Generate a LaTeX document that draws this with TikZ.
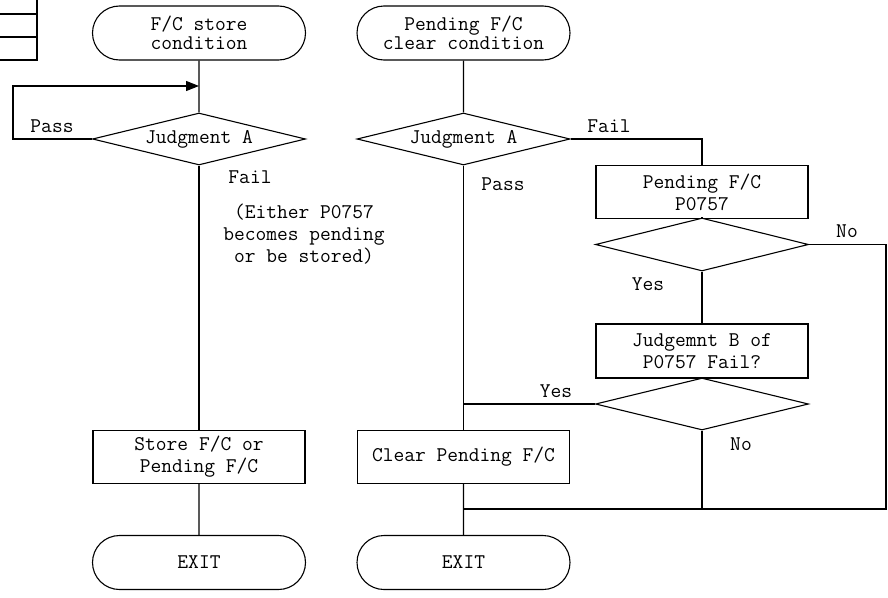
\documentclass[tikz,border=0pt]{standalone}
\usetikzlibrary{shapes.geometric,shapes.misc,arrows.meta}
\begin{document}
\begin{tikzpicture}[x=1pt,y=-1pt,
  line width=1.1pt,
  every node/.style={font=\ttfamily\fontsize{20.9}{22}\selectfont},
  term/.style={draw,rounded rectangle,minimum width=213pt,minimum height=54pt,inner sep=0pt,align=center},
  proc/.style={draw,rectangle,minimum width=212pt,minimum height=53pt,inner sep=0pt,align=center},
  dec/.style={draw,diamond,minimum width=213pt,minimum height=52pt,inner sep=0pt},
  lbl/.style={inner sep=0pt,anchor=base},
  tbl/.style={line width=2pt}]
\useasboundingbox (0,0) rectangle (888,597);
% table fragment
\draw[tbl] (0,14) -- (37,14);
\draw[tbl] (0,37) -- (37,37);
\draw[tbl] (0,60) -| (37,0);
% left column
\node[term,font=\ttfamily\fontsize{20.9}{19}\selectfont] (startL) at (199,33) {F/C store\\condition};
\node[dec] (jaL) at (199,139) {};
\node[inner sep=0pt] (jaLt) at (jaL) {Judgment A};
\node[proc] (store) at (199,457) {Store F/C or\\Pending F/C};
\node[term] (exitL) at (199,562.5) {EXIT};
\coordinate (lpB) at (13,86);
\coordinate (lpT) at (199,86);
\draw (startL) -- (jaL);
\draw[-{Triangle[length=13pt,width=10pt]}] (jaL.west) -| (lpB) -- (lpT);
\draw (jaL) -- (store);
\draw (store) -- (exitL);
\node[lbl] (passL) at (52,132) {Pass};
\node[lbl] (failL) at (250,183) {Fail};
\node[inner sep=0pt,align=center] (note) at (304,234) {(Either P0757\\becomes pending\\or be stored)};
% right column
\node[term,font=\ttfamily\fontsize{20.9}{19}\selectfont] (startR) at (463.5,33) {Pending F/C\\clear condition};
\node[dec] (jaR) at (463.5,139) {};
\node[inner sep=0pt] (jaRt) at (jaR) {Judgment A};
\node[proc] (pend) at (702,192) {Pending F/C\\P0757};
\node[dec,minimum height=53pt] (d2) at (702,244.5) {};
\node[proc,minimum height=54pt] (jb) at (702,351) {Judgemnt B of\\P0757 Fail?};
\node[dec] (d3) at (702,404) {};
\node[proc] (clear) at (463.5,457) {Clear Pending F/C};
\node[term] (exitR) at (463.5,562.5) {EXIT};
\coordinate (joinY) at (463.5,404);
\coordinate (joinB) at (702,509);
\coordinate (joinM) at (463.5,509);
\coordinate (rightC) at (886,509);
\draw (startR) -- (jaR);
\draw (jaR.east) -| (pend.north);
\draw (jaR.south) -- (clear.north);
\draw (pend) -- (d2);
\draw (d2) -- (jb);
\draw (jb) -- (d3);
\draw (d3.west) -- (joinY);
\draw (d3.south) -- (joinB);
\draw (d2.east) -| (rightC) -- (joinM);
\draw (clear) -- (exitR);
\node[lbl] (failR) at (609,132) {Fail};
\node[lbl] (passR) at (503,190) {Pass};
\node[lbl] (yes1) at (648,290) {Yes};
\node[lbl] (no1) at (847,237) {No};
\node[lbl] (yes2) at (556,397) {Yes};
\node[lbl] (no2) at (741,450) {No};
\end{tikzpicture}
\end{document}
